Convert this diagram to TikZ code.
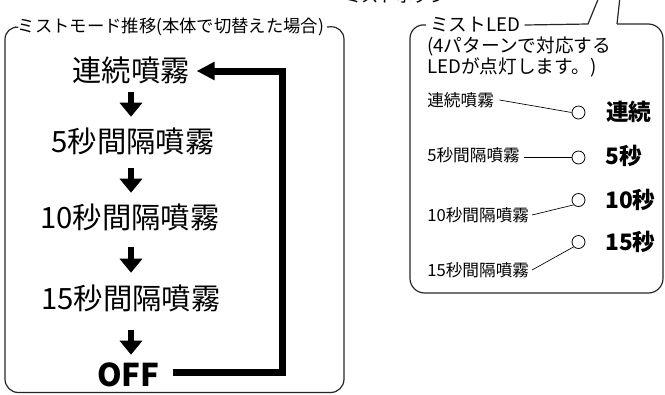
\documentclass[tikz,border=0pt]{standalone}
\usepackage{fontspec}
\setmainfont{Noto Sans CJK JP}
\usetikzlibrary{arrows.meta}
\begin{document}
\begin{tikzpicture}[x=0.75pt,y=-0.75pt,
  boxline/.style={draw=black!85, line width=0.9pt},
  bigtxt/.style={font=\fontsize{22}{26}\selectfont, inner sep=0pt, text height=18pt, text depth=1.5pt},
  offtxt/.style={font=\bfseries\fontsize{23.5}{26}\selectfont, inner sep=0pt, text height=18pt, text depth=1.5pt},
  ttl/.style={font=\fontsize{13}{16}\selectfont, inner sep=2pt},
  boxtxt/.style={font=\fontsize{14}{17}\selectfont, inner sep=0pt, anchor=west},
  lbl/.style={font=\fontsize{12.5}{15}\selectfont, inner sep=0pt},
  ledlbl/.style={font=\bfseries\fontsize{17}{20}\selectfont, inner sep=0pt, anchor=west},
  led/.style={circle, draw, line width=0.6pt, minimum size=9.75pt, inner sep=0pt},
  darr/.style={line width=5pt, -{Triangle[length=10.5pt,width=16.5pt]}},
  retarr/.style={line width=5.25pt, -{Triangle[length=13.5pt,width=13pt]}},
  leader/.style={line width=0.5pt}
]
\useasboundingbox (0,0) rectangle (665,394);

% ---------- left panel ----------
\node[ttl] (ttl) at (171,27) {ミストモード推移(本体で切替えた場合)};
\draw[boxline, rounded corners=10pt] (ttl.east) -- (344,26) -- (344,392.5) -- (5,392.5) -- (5,26) -- (ttl.west);

\node[bigtxt] (n1) at (131,70) {連続噴霧};
\node[bigtxt] (n2) at (133,141) {5秒間隔噴霧};
\node[bigtxt] (n3) at (130,217) {10秒間隔噴霧};
\node[bigtxt] (n4) at (131,298) {15秒間隔噴霧};
\node[offtxt] (off) at (128.5,375) {OFF};

\coordinate (ax) at (131,0);
\draw[darr, shorten <=6.75pt, shorten >=8.25pt] (n1.south -| ax) -- (n2.north -| ax);
\draw[darr, shorten <=10.5pt, shorten >=8.25pt] (n2.south -| ax) -- (n3.north -| ax);
\draw[darr, shorten <=12.75pt, shorten >=9pt] (n3.south -| ax) -- (n4.north -| ax);
\draw[darr, shorten <=14.25pt, shorten >=5.25pt] (n4.south -| ax) -- (off.north -| ax);

\coordinate (rb) at (282.5,372.5);
\coordinate (rt) at (282.5,71);
\draw[retarr, shorten <=9.5pt, shorten >=5pt] (off.east |- rb) -- (rb) -- (rt) -- (n1.east |- rt);

% ---------- right panel ----------
\node[ttl, inner sep=0pt] (btn) at (396,-4) {ミストボタン};
\node[boxtxt] (ledt) at (430,25) {ミストLED};
\node[boxtxt] (l2) at (427,46) {(4パターンで対応する};
\node[boxtxt] (l3) at (427,67) {LEDが点灯します。)};
\draw[boxline, rounded corners=11pt] (617,24) -- (663,24) -- (663,293) -- (410,293) -- (410,24) -- ([xshift=-3pt]ledt.west);
\draw[boxline] ([xshift=3pt]ledt.east) -- (588,24) -- (599,-3);
\draw[boxline] (620,-3) -- (617,24);

% LED rows
\node[led] (c1) at (578.5,112.5) {};
\node[led] (c2) at (578.5,157.5) {};
\node[led] (c3) at (578.5,200) {};
\node[led] (c4) at (578.5,242) {};

\node[lbl, anchor=west] (s1) at (427,100) {連続噴霧};
\node[lbl, anchor=west] (s2) at (427,155.5) {5秒間隔噴霧};
\node[lbl, anchor=west] (s3) at (427,215) {10秒間隔噴霧};
\node[lbl, anchor=west] (s4) at (427,270) {15秒間隔噴霧};

\draw[leader] ([xshift=4pt]s1.east) -- (c1.west);
\draw[leader] ([xshift=3pt]s2.east |- c2) -- (c2.west);
\draw[leader] ([xshift=2pt]s3.east) -- (c3.south west);
\draw[leader] ([xshift=2pt]s4.east) -- (c4.south west);

\node[ledlbl] (b1) at (606,112) {連続};
\node[ledlbl] (b2) at (605,156) {5秒};
\node[ledlbl] (b3) at (605,200) {10秒};
\node[ledlbl] (b4) at (605,242) {15秒};
\end{tikzpicture}
\end{document}
